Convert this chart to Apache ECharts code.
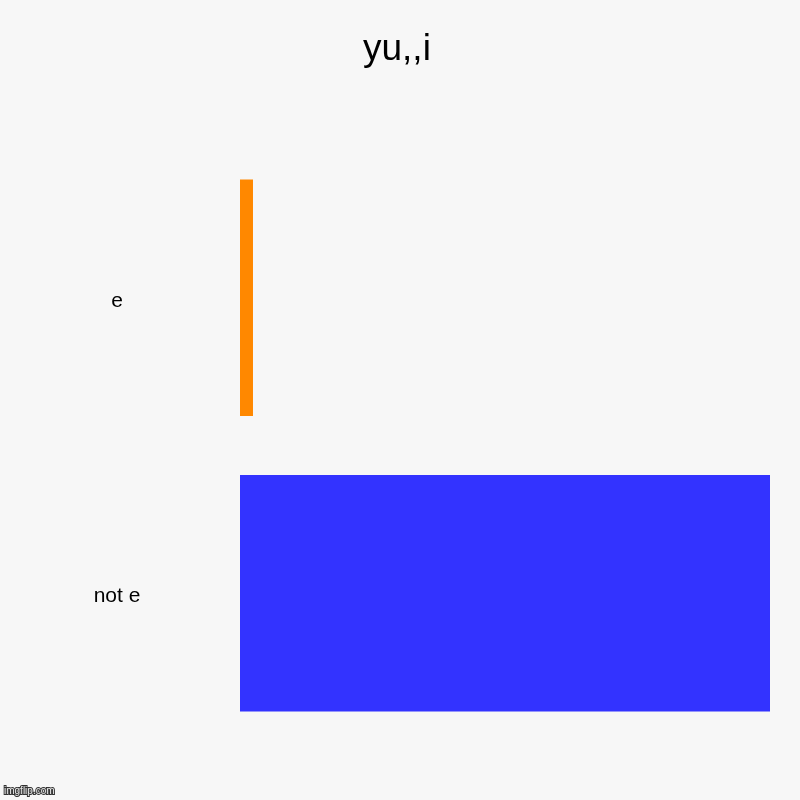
<!DOCTYPE html>
<html>
<head>
<meta charset="utf-8">
<script src="https://cdn.jsdelivr.net/npm/echarts@6/dist/echarts.min.js"></script>
<style>
  html, body { margin: 0; padding: 0; background: #f7f7f7; }
  #chart { width: 800px; height: 800px; }
</style>
</head>
<body>
<div id="chart"></div>
<script>
// categories top -> bottom
var categories = ['e', 'not e'];
var values = [1, 40.8];
var barColors = ['#ff8800', '#3333ff'];

var chart = echarts.init(document.getElementById('chart'));

var option = {
  backgroundColor: '#f7f7f7',
  animation: false,
  title: {
    text: 'yu,,i',
    left: 358,
    top: 26,
    textStyle: {
      fontFamily: 'Liberation Sans',
      fontSize: 37,
      fontWeight: 'normal',
      color: '#000'
    }
  },
  grid: {
    left: 240,
    right: 30,
    top: 150,
    bottom: 59
  },
  xAxis: {
    type: 'value',
    min: 0,
    max: values[1],
    show: false
  },
  yAxis: {
    type: 'category',
    inverse: true,
    data: categories,
    axisLine: { show: false },
    axisTick: { show: false },
    axisLabel: {
      margin: 123,
      align: 'center',
      formatter: function (v) { return '{l|' + v + '}'; },
      rich: {
        l: {
          padding: [6, 0, 0, 0],
          fontFamily: 'Liberation Sans',
          fontSize: 21,
          color: '#000'
        }
      }
    }
  },
  series: [{
    type: 'bar',
    barCategoryGap: '20%',
    data: values.map(function (v, i) {
      return { value: v, itemStyle: { color: barColors[i] } };
    })
  }],
  graphic: [{
    type: 'text',
    left: 3,
    bottom: 3,
    style: {
      text: 'imgflip.com',
      fontFamily: 'Liberation Sans',
      fontSize: 10,
      fill: '#eeeeee',
      stroke: '#333333',
      lineWidth: 2
    }
  }]
};

chart.setOption(option);
</script>
</body>
</html>
